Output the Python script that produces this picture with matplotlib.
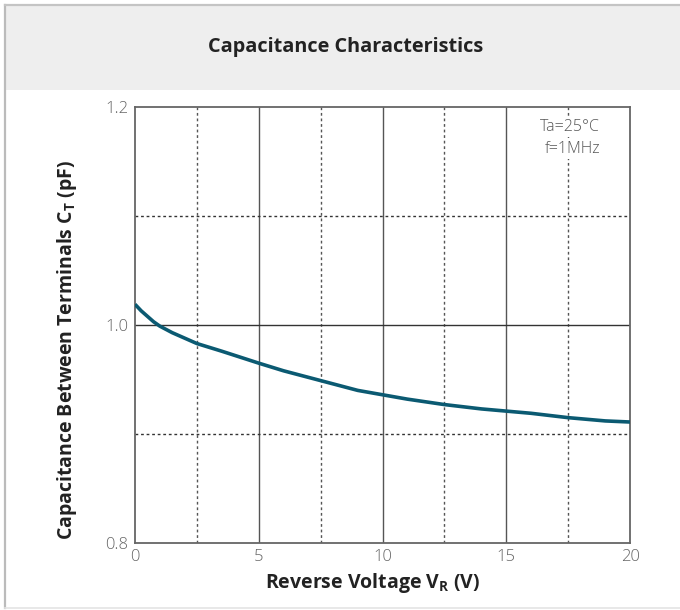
import matplotlib
matplotlib.use("Agg")
import matplotlib.pyplot as plt
from matplotlib.patches import Rectangle
from matplotlib.lines import Line2D

plt.rcParams['font.family'] = ['Open Sans', 'DejaVu Sans']
plt.rcParams['mathtext.fontset'] = 'custom'
plt.rcParams['mathtext.bf'] = 'Open Sans:bold'
plt.rcParams['mathtext.rm'] = 'Open Sans'

# values
voltage = [0, 0.25, 0.5, 0.75, 1.0, 1.5, 2.0, 2.5, 3.5, 5.0, 6.0, 7.5, 9.0, 10.0,
           11.0, 12.5, 14.0, 15.0, 16.0, 17.5, 19.0, 20.0]
capacitance = [1.019, 1.013, 1.008, 1.003, 0.999, 0.993, 0.988, 0.983, 0.976, 0.965,
               0.958, 0.949, 0.940, 0.936, 0.932, 0.927, 0.923, 0.921, 0.919, 0.915,
               0.912, 0.911]

x_ticks = [0, 5, 10, 15, 20]
y_ticks = [0.8, 1.0, 1.2]
x_minor = [2.5, 7.5, 12.5, 17.5]
y_minor = [0.9, 1.1]

title = "Capacitance Characteristics"
line_color = "#0b5a72"
grid_color = "#555555"

fig = plt.figure(figsize=(6.8, 6.1), dpi=100)
W, H = 680, 610

# outer frame and title band
fig.patches.append(Rectangle((5 / W, 1 - 90 / H), 1, 85 / H, transform=fig.transFigure,
                             facecolor="#eeeeee", edgecolor="none", zorder=0))
fig.lines.append(Line2D([5 / W, 5 / W], [2 / H, 1 - 5 / H], transform=fig.transFigure,
                        color="#bbbbbb", lw=1.6))
fig.lines.append(Line2D([5 / W, 1], [1 - 5 / H, 1 - 5 / H], transform=fig.transFigure,
                        color="#c4c4c4", lw=1.6))
fig.lines.append(Line2D([5 / W, 1], [2 / H, 2 / H], transform=fig.transFigure,
                        color="#e4e4e4", lw=1.2))
fig.text(346 / W, 1 - 47 / H, title, ha="center", va="center", fontsize=14.3,
         fontweight="bold", color="#222222")

ax = fig.add_axes([135 / W, 1 - 543 / H, 495 / W, 436 / H])
ax.set_xlim(0, 20)
ax.set_ylim(0.8, 1.2)

for v in x_ticks[1:-1]:
    ax.axvline(v, color=grid_color, lw=1.0, zorder=1)
for v in x_minor:
    ax.axvline(v, color=grid_color, lw=1.0, ls=(0, (2, 2)), zorder=1)
ax.axhline(1.0, color="#333333", lw=1.0, zorder=1)
for v in y_minor:
    ax.axhline(v, color="#333333", lw=1.0, ls=(0, (2, 2)), zorder=1)

ax.plot(voltage, capacitance, color=line_color, lw=2.6, zorder=3,
        solid_capstyle="butt")

ax.set_xticks(x_ticks)
ax.set_yticks(y_ticks)
ax.set_yticklabels(["0.8", "1.0", "1.2"])
ax.tick_params(length=0, labelsize=12, labelcolor="#666666")
ax.tick_params(axis="x", pad=4)
ax.tick_params(axis="y", pad=5)
for lbl in ax.get_xticklabels() + ax.get_yticklabels():
    lbl.set_fontweight("light")
for s in ax.spines.values():
    s.set_color("#666666")
    s.set_linewidth(1.3)

ax.set_xlabel(r"Reverse Voltage V$_\mathbf{R}$ (V)", fontsize=14, fontweight="bold",
              color="#222222")
ax.set_ylabel(r"Capacitance Between Terminals C$_\mathbf{T}$ (pF)", fontsize=14,
              fontweight="bold", color="#222222")
ax.xaxis.set_label_coords(0.479, -0.064)
ax.yaxis.set_label_coords(-0.113, 0.443)

for yy, txt in [(0.953, "Ta=25°C"), (0.903, "f=1MHz")]:
    ax.text(0.94, yy, txt, transform=ax.transAxes, ha="right", va="center",
            fontsize=11.5, color="#555555", fontweight="light", zorder=4,
            bbox=dict(facecolor="white", edgecolor="none", pad=1))

fig.savefig("out.png", dpi=100)
